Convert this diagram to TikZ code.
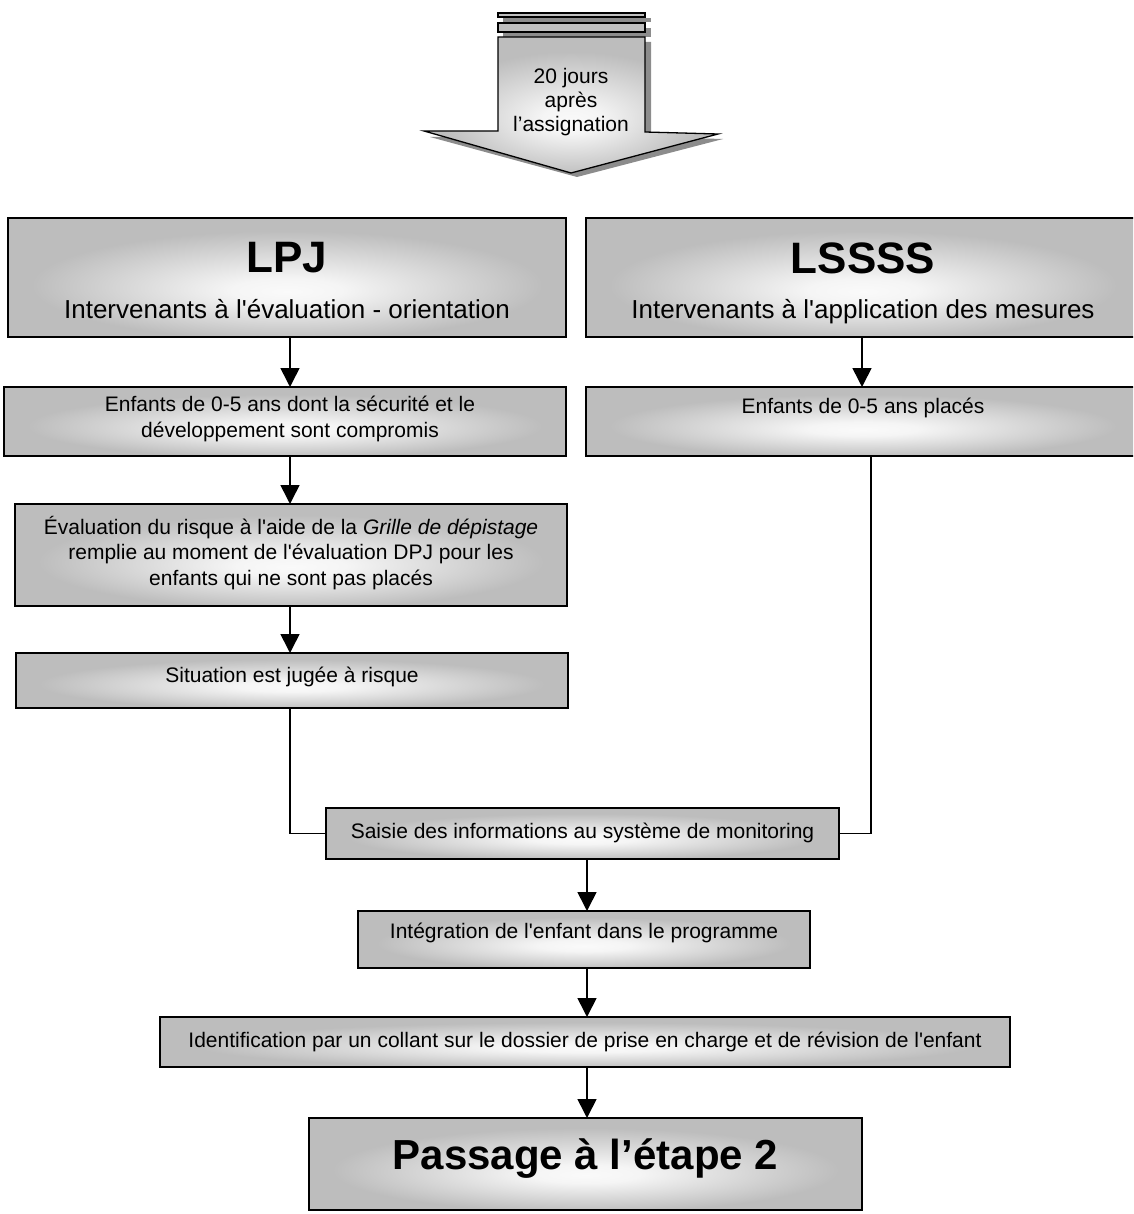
\documentclass[tikz,border=0pt]{standalone}
\usepackage{fontspec}
\setmainfont{Liberation Sans}
\usetikzlibrary{arrows.meta,calc}
\pgfdeclareradialshading{boxshade}{\pgfpoint{0bp}{-6bp}}{color(0bp)=(black!2); color(5bp)=(black!4); color(23bp)=(black!26); color(50bp)=(black!26)}
\begin{document}
\begin{tikzpicture}[x=1pt,y=-1pt,
  box/.style={draw=black, line width=1.5pt, shading=boxshade, rectangle, inner sep=0pt, outer sep=0pt},
  arr/.style={line width=1.6pt, -{Triangle[length=19pt,width=19pt]}},
  conn/.style={line width=1.6pt},
  txt/.style={font=\fontsize{21}{25.5}\selectfont, align=center, inner sep=0pt},
  big/.style={font=\fontsize{44}{50}\selectfont\bfseries, inner sep=0pt},
  mid/.style={font=\fontsize{26}{30}\selectfont, inner sep=0pt, text height=19pt, text depth=6pt},
  topt/.style={font=\fontsize{21}{24}\selectfont, align=center, inner sep=0pt},
  shadow/.style={fill=black!45, draw=none}]
\useasboundingbox (0,0) rectangle (1133,1214);
\clip (0,0) rectangle (1133,1214);

% top arrow
\fill[shadow] (503,18) rectangle (651,22);
\fill[shadow] (503,28) rectangle (651,37);
\fill[shadow] (503,42) -- (651,42) -- (651,137) -- (723,139) -- (577,177) -- (430,137) -- (503,137) -- cycle;
\draw[line width=1.3pt, fill=black!25] (498,13) rectangle (645,17);
\draw[line width=1.3pt, fill=black!25] (498,23) rectangle (645,32);
\draw[line width=1.3pt, shading=boxshade] (498,37) -- (645,37) -- (645,132) -- (718,134) -- (571,173) -- (424,131) -- (498,131) -- cycle;
\node[topt] (t0) at (571,102) {20 jours\\après\\l’assignation};

% boxes
\node[box, minimum width=558, minimum height=119] (lpj) at (287,277.5) {};
\node[box, minimum width=554, minimum height=119] (lssss) at (863,277.5) {};
\node[box, minimum width=562, minimum height=69] (enf1) at (285,421.5) {};
\node[box, minimum width=554, minimum height=69] (enf2) at (863,421.5) {};
\node[box, minimum width=552, minimum height=102] (eval) at (291,555) {};
\node[box, minimum width=552, minimum height=55] (sit) at (292,680.5) {};
\node[box, minimum width=513, minimum height=51] (saisie) at (582.5,833.5) {};
\node[box, minimum width=452, minimum height=57] (integ) at (584,939.5) {};
\node[box, minimum width=850, minimum height=50] (ident) at (585,1042) {};
\node[box, minimum width=553, minimum height=92] (pass) at (585.5,1164) {};

% texts
\node[big] (t1) at (287,258) {LPJ};
\node[mid] (t2) at (287,312) {Intervenants à l\textquotesingle évaluation - orientation};
\node[big] (t3) at (863,258) {LSSSS};
\node[mid] (t4) at (863,312) {Intervenants à l\textquotesingle application des mesures};
\node[txt] (t5) at (290,419) {Enfants de 0-5 ans dont la sécurité et le\\développement sont compromis};
\node[txt] (t6) at (863,408) {Enfants de 0-5 ans placés};
\node[txt] (t7) at (291,553) {Évaluation du risque à l\textquotesingle aide de la \textit{Grille de dépistage}\\remplie au moment de l\textquotesingle évaluation DPJ pour les\\enfants qui ne sont pas placés};
\node[txt] (t8) at (292,677) {Situation est jugée à risque};
\node[txt] (t9) at (582.5,833) {Saisie des informations au système de monitoring};
\node[txt] (t10) at (584,933) {Intégration de l\textquotesingle enfant dans le programme};
\node[txt] (t11) at (585,1042) {Identification par un collant sur le dossier de prise en charge et de révision de l\textquotesingle enfant};
\node[big, font=\fontsize{42}{48}\selectfont\bfseries] (t12) at (585.5,1159) {Passage à l’étape 2};

% connectors
\coordinate (cL) at (290,0);
\coordinate (cR2) at (862,0);
\coordinate (cR) at (871,0);
\coordinate (cM) at (587,0);
\draw[arr] (lpj.south -| cL) -- (enf1.north -| cL);
\draw[arr] (enf1.south -| cL) -- (eval.north -| cL);
\draw[arr] (eval.south -| cL) -- (sit.north -| cL);
\draw[conn] (sit.south -| cL) |- (saisie.west);
\draw[arr] (lssss.south -| cR2) -- (enf2.north -| cR2);
\draw[conn] (enf2.south -| cR) |- (saisie.east);
\draw[arr] (saisie.south -| cM) -- (integ.north -| cM);
\draw[arr] (integ.south -| cM) -- (ident.north -| cM);
\draw[arr] (ident.south -| cM) -- (pass.north -| cM);
\end{tikzpicture}
\end{document}
